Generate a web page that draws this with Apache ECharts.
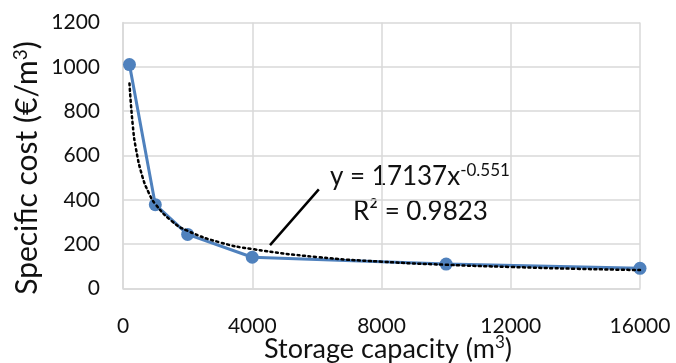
<!DOCTYPE html>
<html>
<head>
<meta charset="utf-8">
<script src="https://cdn.jsdelivr.net/npm/echarts@6/dist/echarts.min.js"></script>
<style>
  html, body { margin: 0; padding: 0; background: #fff; }
  #chart { width: 676px; height: 363px; }
</style>
</head>
<body>
<div id="chart"></div>
<script>
// Storage capacity (m³) and specific cost (€/m³) of the measured stores
const capacity = [200, 1000, 2000, 4000, 10000, 16000];
const specificCost = [1010, 378, 244, 141, 110, 91];

// Power trend line y = 17137·x^-0.551, tabulated at these capacities
const trendX = [200, 300, 400, 600, 800, 1000, 1500, 2000, 3000, 4000, 6000, 8000, 10000, 12000, 14000, 16000];
const trendY = [925, 740, 631, 505, 431, 381, 305, 260, 208, 178, 142, 121, 107, 97, 89, 83];

// Axis ranges and tick steps
const xTicks = [0, 4000, 8000, 12000, 16000];
const yTicks = [0, 200, 400, 600, 800, 1000, 1200];

// Leader line from the trend curve to the equation text
const leaderX = [4550, 6060];
const leaderY = [196, 447];

const FONT = 'Lato, "Open Sans", sans-serif';
const TXT = '#111';

const chart = echarts.init(document.getElementById('chart'), null, { renderer: 'canvas' });

function titleRich(size) {
  return {
    base: { fontFamily: FONT, fontSize: size, color: TXT },
    sup: { fontFamily: FONT, fontSize: Math.round(size * 0.62), color: TXT, verticalAlign: 'top', padding: [0, 0, Math.round(size * 0.45), 0] }
  };
}

chart.setOption({
  animation: false,
  backgroundColor: '#fff',
  grid: { left: 123, right: 36, top: 22.5, bottom: 74.5, containLabel: false, outerBoundsMode: 'none' },
  xAxis: {
    type: 'value',
    min: xTicks[0],
    max: xTicks[xTicks.length - 1],
    interval: xTicks[1] - xTicks[0],
    name: '{base|Storage capacity (m}{sup|3}{base|)}',
    nameLocation: 'middle',
    nameGap: 46,
    nameMoveOverlap: false,
    nameTextStyle: { rich: titleRich(27), padding: [0, 0, 0, 13] },
    axisLine: { show: true, lineStyle: { color: '#d9d9d9', width: 1.5 } },
    axisTick: { show: false },
    axisLabel: { fontFamily: FONT, fontSize: 21, color: TXT, margin: 27, formatter: v => String(v) },
    splitLine: { show: true, lineStyle: { color: '#d9d9d9', width: 1.5 } }
  },
  yAxis: {
    type: 'value',
    min: yTicks[0],
    max: yTicks[yTicks.length - 1],
    interval: yTicks[1] - yTicks[0],
    name: '{base|Specific cost (€/m}{sup|3}{base|)}',
    nameLocation: 'middle',
    nameGap: 79,
    nameMoveOverlap: false,
    nameRotate: 90,
    nameTextStyle: { rich: titleRich(30), padding: [0, 25, 0, 0] },
    axisLine: { show: true, lineStyle: { color: '#d9d9d9', width: 1.5 } },
    axisTick: { show: false },
    axisLabel: { fontFamily: FONT, fontSize: 21, color: TXT, margin: 23, formatter: v => String(v) },
    splitLine: { show: true, lineStyle: { color: '#d9d9d9', width: 1.5 } }
  },
  series: [
    {
      name: 'Specific cost',
      type: 'line',
      data: capacity.map((c, i) => [c, specificCost[i]]),
      symbol: 'circle',
      symbolSize: 13,
      z: 2,
      lineStyle: { color: '#4F81BD', width: 3 },
      itemStyle: { color: '#4F81BD' }
    },
    {
      name: 'Power trend',
      type: 'line',
      data: trendX.map((c, i) => [c, trendY[i]]),
      smooth: true,
      symbol: 'none',
      z: 3,
      lineStyle: { color: '#000', width: 2.5, type: [2, 3.5], cap: 'round' },
      markLine: {
        silent: true,
        symbol: ['none', 'none'],
        label: { show: false },
        lineStyle: { color: '#000', width: 2.5, type: 'solid' },
        data: [[
          { coord: [leaderX[0], leaderY[0]] },
          { coord: [leaderX[1], leaderY[1]] }
        ]]
      }
    }
  ],
  graphic: [
    {
      type: 'text',
      left: 330,
      top: 162,
      style: {
        text: '{base|y = 17137x}{sup|-0.551}',
        rich: {
          base: { fontFamily: FONT, fontSize: 26, fill: TXT },
          sup: { fontFamily: FONT, fontSize: 17, fill: TXT, verticalAlign: 'top', padding: [0, 0, 12, 0] }
        }
      }
    },
    {
      type: 'text',
      left: 353,
      top: 199,
      style: {
        text: 'R² = 0.9823',
        fontFamily: FONT,
        fontSize: 26,
        fill: TXT
      }
    }
  ]
});
</script>
</body>
</html>
